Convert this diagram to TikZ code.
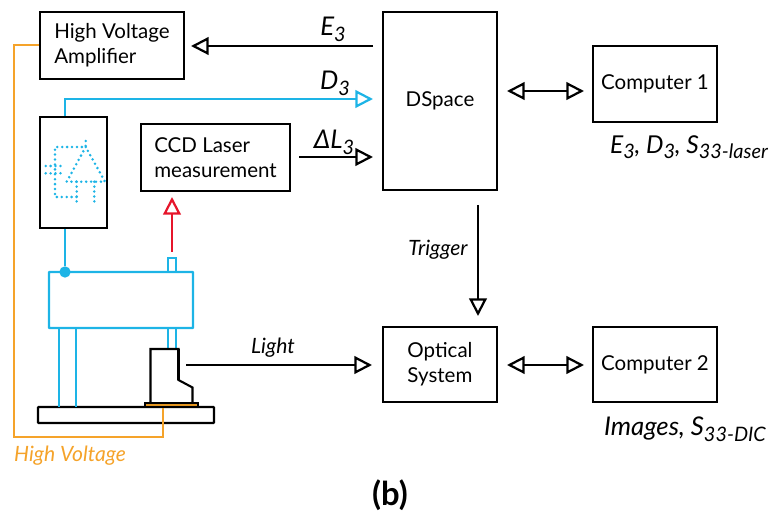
\documentclass[tikz,border=0pt]{standalone}
\usepackage{fontspec}
\setmainfont{Lato}
\usetikzlibrary{arrows.meta}
\definecolor{wireblue}{HTML}{1DB4E6}
\definecolor{wireorange}{HTML}{F5A32A}
\definecolor{wirered}{HTML}{E6152B}
\definecolor{platebrown}{HTML}{E3951F}
\newcommand{\lowtext}[1]{\raisebox{-0.45ex}{\fontsize{17}{20}\selectfont #1}}
\begin{document}
\begin{tikzpicture}[x=0.03cm, y=-0.03cm]
\tikzstyle{box}=[draw, line width=1.9pt, align=left, font=\fontsize{17.5}{21}\selectfont, inner sep=0pt]
\tikzstyle{tag}=[inner sep=0pt, font=\itshape\fontsize{22}{26}\selectfont]
\tikzstyle{small}=[inner sep=0pt, font=\itshape\fontsize{18}{22}\selectfont]
\tikzstyle{arr}=[line width=1.9pt, -{Triangle[open, length=15pt, width=15pt, line width=1.9pt]}]
\tikzstyle{both}=[line width=1.9pt, {Triangle[open, length=15pt, width=15pt, line width=1.9pt]}-{Triangle[open, length=15pt, width=15pt, line width=1.9pt]}]
\tikzstyle{wire}=[draw=wireblue, line width=2pt]
\tikzstyle{dots}=[wireblue, line width=2.4pt, line cap=round, dash pattern=on 0pt off 4.2pt]
\useasboundingbox (0,0) rectangle (781,513);

\node(amp)[box, minimum width=4.32cm, minimum height=2.01cm]    at (112, 45.5) {High Voltage\\Amplifier};
\node(dspace)[box, minimum width=3.42cm, minimum height=5.34cm] at (440, 101) {DSpace};
\node(pc1)[box, minimum width=3.72cm, minimum height=2.28cm]    at (655, 84) {Computer 1};
\node(ccd)[box, minimum width=4.47cm, minimum height=2.01cm]    at (215.5, 157.5) {CCD Laser\\measurement};
\node(driver)[box, minimum width=2.01cm, minimum height=3.33cm] at (73.5, 172.5) {};
\node(optical)[box, minimum width=3.42cm, minimum height=2.25cm] at (440, 364.5) {Optical\\System};
\node(pc2)[box, minimum width=3.72cm, minimum height=2.25cm]    at (655, 364.5) {Computer 2};
\node(stage)[wire, draw, rounded corners=0.5pt, minimum width=4.32cm, minimum height=1.68cm] at (121, 300) {};
\node(sensor)[wire, draw, inner sep=0pt, minimum width=0.24cm, minimum height=0.42cm] at (172, 265) {};
\node(base)[draw, line width=1.9pt, rounded corners=0.5pt, minimum width=5.28cm, minimum height=0.48cm] at (126, 415) {};
\node(plate)[draw, fill=platebrown, inner sep=0pt, line width=1.6pt, minimum width=1.59cm, minimum height=0.13cm] at (171.5, 405) {};
\node(dot)[circle, fill=wireblue, inner sep=0pt, minimum size=0.34cm] at (65, 272) {};

\node(e3)[tag]     at (333, 29) {E\lowtext{3}};
\node(d3)[tag]     at (335, 83) {D\lowtext{3}};
\node(dl3)[tag]    at (334, 142) {ΔL\lowtext{3}};
\node(data1)[tag, font=\itshape\fontsize{21}{26}\selectfont]  at (689, 147) {E\lowtext{3}, D\lowtext{3}, S\lowtext{33-laser}};
\node(trigger)[small] at (438, 250) {Trigger};
\node(light)[small]   at (273, 348) {Light};
\node(data2)[tag]  at (685, 429) {Images, S\lowtext{33-DIC}};
\node(hv)[small, text=wireorange] at (70, 456) {High Voltage};
\node(fig)[inner sep=0pt, font=\bfseries\fontsize{28}{32}\selectfont] at (390, 495) {(b)};

\coordinate(e3a)   at (373, 46);
\coordinate(e3b)   at (191, 46);
\coordinate(d3a)   at (65, 99);
\coordinate(d3b)   at (373, 99);
\coordinate(dl3a)  at (299, 157);
\coordinate(dl3b)  at (373, 157);
\coordinate(t1)    at (478, 205);
\coordinate(t2)    at (478, 316);
\coordinate(red1)  at (172, 252);
\coordinate(red2)  at (172, 197);
\coordinate(l1)    at (186, 365);
\coordinate(l2)    at (372, 365);
\coordinate(b1)    at (507, 91);
\coordinate(b2)    at (584, 91);
\coordinate(b3)    at (507, 365);
\coordinate(b4)    at (584, 365);
\coordinate(o1)    at (14, 45);
\coordinate(o2)    at (14, 437);
\coordinate(o3)    at (163, 437);

\draw[arr] (e3a) -- (e3b);
\draw[arr, wireblue] (driver.north -| d3a) -- (d3a) -- (d3b);
\draw[arr] (dl3a) -- (dl3b);
\draw[arr] (t1) -- (t2);
\draw[arr, wirered] (red1) -- (red2);
\draw[arr] (l1) -- (l2);
\draw[both] (b1) -- (b2);
\draw[both] (b3) -- (b4);
\draw[wireorange, line width=1.6pt] (amp.west |- o1) -- (o1) -- (o2) -- (o3) -- (plate.south -| o3);

\draw[wire] (driver.south -| dot) -- (dot);
\draw[wire] (168, 328) -- (168, 349);
\draw[wire] (176, 328) -- (176, 349);
\draw[wire] (59, 328) -- (59, 407);
\draw[wire] (76, 328) -- (76, 407);

\draw[line width=1.8pt, line join=miter] (150.5, 403) -- (150.5, 349) -- (178.5, 349) -- (178.5, 380) -- (192.5, 387.5) -- (192.5, 403);
\draw[line width=3pt] (178.5, 349) -- (178.5, 380);

\draw[dots] (85.7, 141) -- (85.7, 147) -- (55, 147) -- (55, 197) -- (76.7, 197);
\draw[dots] (85.7, 147) -- (66.7, 181.7) -- (105, 181.7) -- cycle;
\draw[dots] (76.7, 181.7) -- (76.7, 205);
\draw[dots] (94.3, 181.7) -- (94.3, 205);
\draw[dots] (45.7, 166) -- (65, 166);
\draw[dots] (45.7, 173.3) -- (65, 173.3);

\end{tikzpicture}
\end{document}
